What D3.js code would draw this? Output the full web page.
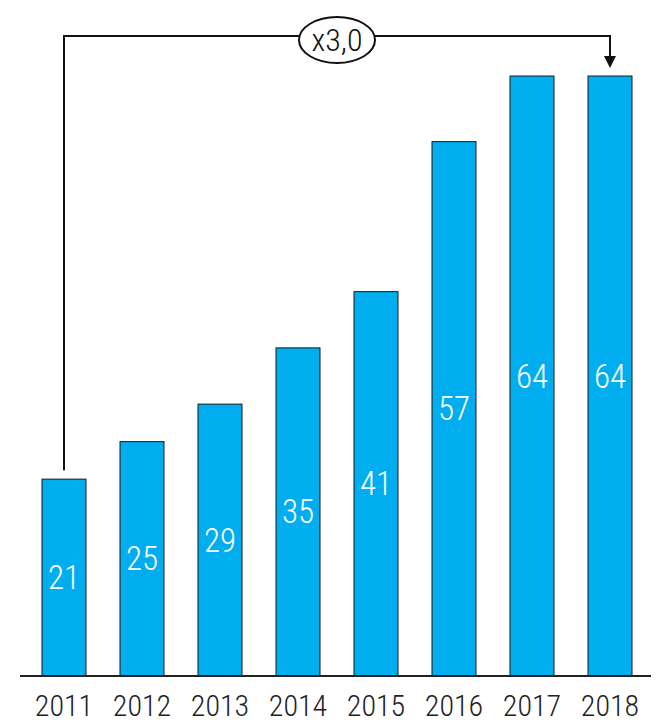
<!DOCTYPE html>
<html>
<head>
<meta charset="utf-8">
<script src="https://cdn.jsdelivr.net/npm/d3@7"></script>
<style>
  body { margin: 0; background: #fff; }
  text { font-family: "Roboto Condensed", "Liberation Sans Narrow", "DejaVu Sans Condensed", sans-serif; font-weight: 300; }
</style>
</head>
<body>
<svg id="chart"></svg>
<script>
const years = ["2011", "2012", "2013", "2014", "2015", "2016", "2017", "2018"];
const values = [21, 25, 29, 35, 41, 57, 64, 64];
const growth_label = "x3,0";

const width = 663, height = 726;
const base_y = 676;

const svg = d3.select("#chart")
    .attr("width", width)
    .attr("height", height);

const x = d3.scaleBand()
    .domain(years)
    .range([25, 649])
    .paddingInner(0.436)
    .paddingOuter(0.218);

const y = d3.scaleLinear()
    .domain([0, 64])
    .range([base_y, 76]);

// bars
svg.append("g")
    .selectAll("rect")
    .data(values)
    .enter().append("rect")
    .attr("x", (d, i) => x(years[i]))
    .attr("y", d => y(d))
    .attr("width", x.bandwidth())
    .attr("height", d => base_y - y(d))
    .attr("fill", "#00aeef")
    .attr("stroke", "#1a1a1a")
    .attr("stroke-width", 1);

// value labels
svg.append("g")
    .selectAll("text")
    .data(values)
    .enter().append("text")
    .attr("x", (d, i) => x(years[i]) + x.bandwidth() / 2)
    .attr("y", d => (y(d) + base_y) / 2)
    .attr("dy", "0.35em")
    .attr("text-anchor", "middle")
    .attr("fill", "#fff")
    .attr("font-size", 33)
    .text(d => d);

// baseline axis
const axis = svg.append("g")
    .attr("transform", `translate(0,${base_y})`)
    .call(d3.axisBottom(x).tickSize(0).tickPadding(19));
axis.select(".domain")
    .attr("d", "M20,0H651")
    .attr("stroke", "#222")
    .attr("stroke-width", 2);
axis.selectAll("text")
    .attr("font-size", 30)
    .attr("fill", "#222")
    .attr("font-family", null);

// growth bracket
const x0 = x(years[0]) + x.bandwidth() / 2;
const x1 = x(years[years.length - 1]) + x.bandwidth() / 2;
const top_y = 36;

svg.append("path")
    .attr("d", `M${x0},${y(values[0]) - 9}V${top_y}H${x1}V${y(values[values.length - 1]) - 18}`)
    .attr("fill", "none")
    .attr("stroke", "#111")
    .attr("stroke-width", 2);

svg.append("path")
    .attr("d", `M${x1 - 6},${y(values[values.length - 1]) - 20}L${x1 + 6},${y(values[values.length - 1]) - 20}L${x1},${y(values[values.length - 1]) - 8}Z`)
    .attr("fill", "#111");

const cx = (x0 + x1) / 2;
svg.append("ellipse")
    .attr("cx", cx)
    .attr("cy", 40)
    .attr("rx", 38)
    .attr("ry", 23)
    .attr("fill", "#fff")
    .attr("stroke", "#111")
    .attr("stroke-width", 2);

svg.append("text")
    .attr("x", cx)
    .attr("y", 40)
    .attr("dy", "0.35em")
    .attr("text-anchor", "middle")
    .attr("font-size", 32)
    .attr("fill", "#111")
    .text(growth_label);
</script>
</body>
</html>
